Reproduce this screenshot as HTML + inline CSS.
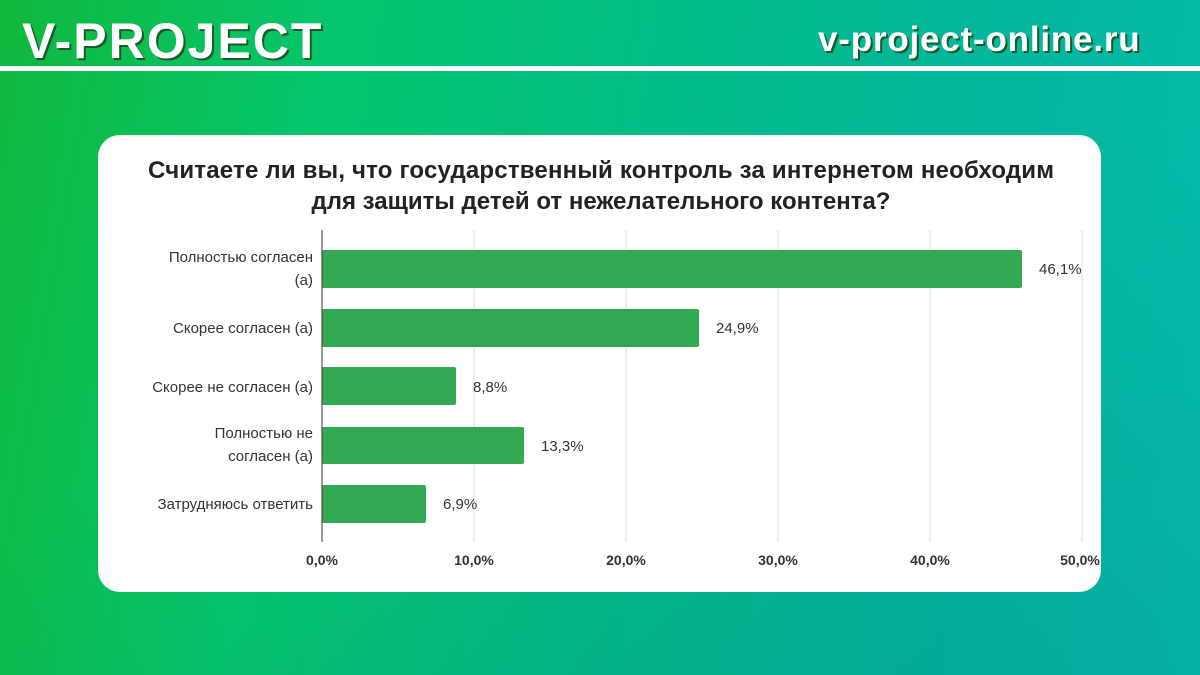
<!DOCTYPE html><html><head><meta charset="utf-8"><style>
body{margin:0;width:1200px;height:675px;overflow:hidden;font-family:"Liberation Sans",sans-serif;
background:linear-gradient(100deg,#10b83c 0%,#05c66c 25%,#02bb8a 55%,#04b6a0 80%,#05bfae 100%);position:relative}
.t{position:absolute;color:#fff;font-weight:bold;text-shadow:2px 2px 0 #1a5a2a;white-space:nowrap}
.card{position:absolute;left:98px;top:135px;width:1003px;height:457px;background:#fff;border-radius:22px}
svg{position:absolute;left:0;top:0}
</style></head><body>
<div style="position:absolute;left:0;top:130px;width:1200px;height:545px;background:linear-gradient(160deg,rgba(0,0,0,0) 40%,rgba(0,60,90,0.12) 100%)"></div>
<div class="t" style="left:22px;top:12px;font-size:50px;letter-spacing:2px">V-PROJECT</div>
<div class="t" style="left:818px;top:20px;font-size:35px;letter-spacing:0.8px">v-project-online.ru</div>
<div style="position:absolute;left:0;top:66px;width:1200px;height:5px;background:#fff"></div>
<div class="card"></div>
<svg width="1200" height="675" font-family="Liberation Sans, sans-serif">
<text x="601" y="178" text-anchor="middle" font-size="24" font-weight="bold" fill="#222" textLength="906">Считаете ли вы, что государственный контроль за интернетом необходим</text>
<text x="601" y="209" text-anchor="middle" font-size="24" font-weight="bold" fill="#222">для защиты детей от нежелательного контента?</text>
<g stroke="#ddd" stroke-width="1">
<line x1="474" y1="230" x2="474" y2="542"/><line x1="626" y1="230" x2="626" y2="542"/><line x1="778" y1="230" x2="778" y2="542"/><line x1="930" y1="230" x2="930" y2="542"/><line x1="1082" y1="230" x2="1082" y2="542"/></g>
<g fill="#34a853">
<rect x="322" y="250" width="700" height="38" rx="2"/>
<rect x="322" y="309" width="377" height="38" rx="2"/>
<rect x="322" y="367" width="134" height="38" rx="2"/>
<rect x="322" y="427" width="202" height="37" rx="2"/>
<rect x="322" y="485" width="104" height="38" rx="2"/></g>
<line x1="322" y1="230" x2="322" y2="542" stroke="#333" stroke-width="1"/>
<g font-size="15" fill="#333" text-anchor="end">
<text x="313" y="262">Полностью согласен</text><text x="313" y="285">(а)</text>
<text x="313" y="333">Скорее согласен (а)</text>
<text x="313" y="392">Скорее не согласен (а)</text>
<text x="313" y="438">Полностью не</text><text x="313" y="461">согласен (а)</text>
<text x="313" y="509">Затрудняюсь ответить</text></g>
<g font-size="15" fill="#333">
<text x="1039" y="274">46,1%</text><text x="716" y="333">24,9%</text><text x="473" y="392">8,8%</text><text x="541" y="451">13,3%</text><text x="443" y="509">6,9%</text></g>
<g font-size="14" font-weight="bold" fill="#333" text-anchor="middle">
<text x="322" y="565">0,0%</text><text x="474" y="565">10,0%</text><text x="626" y="565">20,0%</text><text x="778" y="565">30,0%</text><text x="930" y="565">40,0%</text><text x="1080" y="565">50,0%</text></g>
</svg>
</body></html>
